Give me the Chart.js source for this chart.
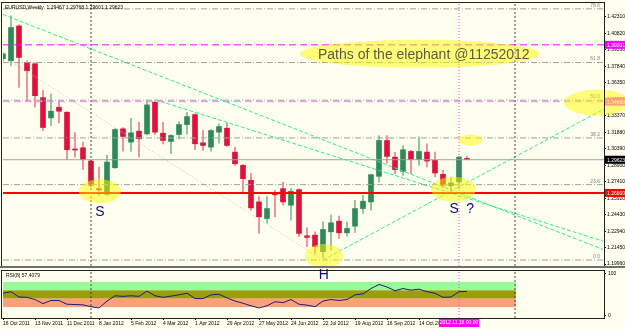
<!DOCTYPE html>
<html>
<head>
<meta charset="utf-8">
<script src="https://cdn.jsdelivr.net/npm/chart.js@4.4.1/dist/chart.umd.min.js"></script>
<style>
  html, body { margin: 0; padding: 0; background: #fffff0; }
  #wrap { position: relative; width: 625px; height: 329px; overflow: hidden; background: #fffff0; }
  #rsi { position: absolute; left: 0; top: 266px; }
  #main { position: absolute; left: 0; top: 0; z-index: 2; }
</style>
</head>
<body>
<div id="wrap">
  <canvas id="rsi" width="625" height="63"></canvas>
  <canvas id="main" width="625" height="282"></canvas>
</div>
<script>
// ---------------------------------------------------------------
//  EURUSD weekly, 16 Oct 2011 .. 25 Nov 2012 (bar index = week)
// ---------------------------------------------------------------

const OPEN  = [1.3851,1.3833,1.4148,1.3818,1.3806,1.3500,1.3317,1.3413,1.3368,1.3032,
               1.3047,1.2927,1.2677,1.2627,1.2867,1.3218,1.3098,1.3197,1.3173,1.3458,
               1.3179,1.3104,1.3167,1.3257,1.3347,1.3092,1.3053,1.3188,1.3224,1.3008,
               1.2888,1.2753,1.2558,1.2408,1.2631,1.2678,1.2528,1.2669,1.2252,1.2258,
               1.2108,1.2288,1.2384,1.2279,1.2339,1.2498,1.2558,1.2789,1.3113,1.2963,
               1.2834,1.3014,1.2940,1.3008,1.2933,1.2807,1.2705,1.2738,1.2951];
const HIGH  = [1.3905,1.4238,1.4157,1.3833,1.3815,1.3563,1.3533,1.3479,1.3374,1.3185,
               1.3098,1.2933,1.2873,1.2978,1.3221,1.3230,1.3314,1.3278,1.3479,1.3473,
               1.3278,1.3167,1.3284,1.3368,1.3356,1.3203,1.3212,1.3263,1.3272,1.3053,
               1.2897,1.2813,1.2609,1.2609,1.2663,1.2738,1.2678,1.2676,1.2324,1.2288,
               1.2378,1.2438,1.2429,1.2378,1.2573,1.2618,1.2807,1.3158,1.3158,1.3005,
               1.3068,1.3023,1.3143,1.3083,1.3008,1.2843,1.2783,1.2969,1.2969];
const LOW   = [1.3833,1.3788,1.3593,1.3473,1.3413,1.3203,1.3248,1.3272,1.2940,1.2963,
               1.2849,1.2699,1.2618,1.2618,1.2861,1.3017,1.3014,1.2963,1.3164,1.3167,
               1.3083,1.2993,1.3128,1.3167,1.3030,1.3023,1.3017,1.3089,1.3059,1.2888,
               1.2648,1.2483,1.2273,1.2369,1.2423,1.2528,1.2393,1.2243,1.2153,1.2093,
               1.2051,1.2123,1.2228,1.2249,1.2279,1.2453,1.2483,1.2738,1.2909,1.2813,
               1.2798,1.2813,1.2888,1.2873,1.2783,1.2690,1.2648,1.2677,1.2938];
const CLOSE = [1.3896,1.4133,1.3863,1.3743,1.3518,1.3230,1.3377,1.3377,1.3030,1.3027,
               1.2940,1.2708,1.2668,1.2918,1.3212,1.3149,1.3182,1.3128,1.3434,1.3188,
               1.3113,1.3158,1.3257,1.3329,1.3083,1.3068,1.3203,1.3239,1.3068,1.2903,
               1.2768,1.2504,1.2423,1.2498,1.2622,1.2558,1.2654,1.2273,1.2237,1.2153,
               1.2309,1.2369,1.2279,1.2318,1.2498,1.2564,1.2804,1.3113,1.2969,1.2849,
               1.3030,1.2940,1.3014,1.2927,1.2819,1.2708,1.2729,1.2963,1.2940];

// RSI(8)
const RSI = [53.0,56.7,44.0,43.3,38.0,28.3,35.8,35.8,26.8,26.1,
             25.3,20.9,17.9,34.3,47.0,45.5,47.0,45.5,58.2,47.0,
             43.3,46.2,49.2,53.0,40.3,40.3,49.2,50.7,41.8,34.3,
             29.1,23.1,17.9,23.1,32.8,30.6,38.0,26.8,24.6,20.9,
             34.3,38.0,35.8,38.0,49.2,51.5,64.2,73.9,67.9,58.9,
             64.2,60.4,62.7,56.7,53.0,43.3,44.0,56.7,57.4079];
const RSI_BANDS = [80, 60, 40, 20];        // green / olive / salmon zones
const RSI_BAND_END = 64.1;                 // zones stop at the 2013 separator
const RSI_TICKS = [0, 100];

// axis ticks
const PRICE_TICKS = [1.1996,1.2145,1.2294,1.2443,1.2592,1.2741,1.2890,1.3039,
                     1.3188,1.3337,1.3486,1.3635,1.3784,1.3933,1.4082,1.4231];
const DATE_BARS = [0,4,8,12,16,20,24,28,32,36,40,44,48,52];
const DATE_LABELS = ['16 Oct 2011','13 Nov 2011','11 Dec 2011','8 Jan 2012','5 Feb 2012',
                     '4 Mar 2012','1 Apr 2012','29 Apr 2012','27 May 2012','24 Jun 2012',
                     '22 Jul 2012','19 Aug 2012','16 Sep 2012','14 Oct 2012'];
const CURSOR_BAR = 57;
const CURSOR_LABEL = '2012.11.18 00:00';
const SEPARATOR_BARS = [11, 64];

// objects on the chart
const LEVEL_MAGENTA = 1.3977, LEVEL_PINK = 1.3464, LEVEL_BID = 1.2939, LEVEL_RED = 1.2639;
const TAG_TEXT = ['1.39031', '1.34660', '1.29623', '1.26600'];
const FIB_PRICES = [1.2033, 1.2714, 1.3136, 1.3477, 1.3817, 1.4302];
const FIB_TEXT = ['0.0', '23.6', '38.2', '50.0', '61.8', '78.6'];
const TREND_A = [[0, 1.4252], [75, 1.2128]];
const TREND_B = [[19, 1.3482], [75, 1.2204]];
const TREND_C = [[40, 1.2033], [75.125, 1.3397]];
const TREND_D = [[0.875, 1.3833], [40, 1.2033]];
const MARKS_AT = [[12.1, 1.2654], [40.1, 1.2069], [56.3, 1.2672], [58.4, 1.3118], [52.1, 1.3896], [74.25, 1.3455]];
const LETTERS = ['S', 'H', 'S', '?'];
const LETTERS_AT = [[12.1, 1.2465], [40.1, 1.1897], [56.4, 1.2492], [58.4, 1.2492]];
const TITLE = 'Paths of the elephant @11252012';
const TITLE_AT = [52.6, 1.3883];
const HEADER = 'EURUSD,Weekly  1.29467 1.29768 1.29601 1.29623';

const X_MAX = 75.125, Y_MIN = 1.1979, Y_MAX = 1.4346;

// ---------------------------------------------------------------
const UP = '#2e8b57', DOWN = '#dc143c';
const UP_WICK = 'rgba(46,139,87,0.6)', DOWN_WICK = 'rgba(220,20,60,0.55)';
const MARK_R = [[21, 12], [19, 12], [22.5, 12.5], [12, 5.5], [120, 14], [33, 13]];
const TINY = { family: 'Liberation Sans', size: 5 };

const isUp = OPEN.map((o, i) => CLOSE[i] >= o);

function hline(v, color, dash, width) {
    return { type: 'line', data: [{ x: 0, y: v }, { x: X_MAX, y: v }], borderColor: color,
             borderDash: dash, borderWidth: width || 1, pointRadius: 0, order: 1 };
}
function seg(pts, color, dash) {
    return { type: 'line', data: pts.map(p => ({ x: p[0], y: p[1] })), borderColor: color,
             borderDash: dash, borderWidth: 1, pointRadius: 0, order: 1 };
}
function vline(b, lo, hi, color, dash) {
    return { type: 'line', data: [{ x: b, y: lo }, { x: b, y: hi }], borderColor: color,
             borderDash: dash, borderWidth: 1, pointRadius: 0, order: 1 };
}

const FIB_DASH = [6, 2, 1, 2];
const mainSets = [
    { label: 'wick', data: LOW.map((l, i) => ({ x: i, y: [l, HIGH[i]] })),
      backgroundColor: isUp.map(u => u ? UP_WICK : DOWN_WICK), barThickness: 1, grouped: false, order: 3 },
    { label: 'body', data: OPEN.map((o, i) => ({ x: i, y: [o, CLOSE[i]] })),
      backgroundColor: isUp.map(u => u ? UP : DOWN), barThickness: 5, minBarLength: 1, grouped: false, order: 2 },
    ...FIB_PRICES.map(p => hline(p, '#a0a0a0', FIB_DASH)),
    ...SEPARATOR_BARS.map(b => vline(b, Y_MIN, Y_MAX, '#444', [2, 2])),
    vline(CURSOR_BAR, Y_MIN, Y_MAX, '#ff33ff', [1, 2]),
    hline(LEVEL_BID, '#a0a0a0', []),
    hline(LEVEL_MAGENTA, '#ff00ff', [7, 4]),
    hline(LEVEL_PINK, '#ee88ee', [7, 4]),
    hline(LEVEL_RED, '#ff0000', [], 2),
    seg(TREND_D, '#c0c0c0', [1, 2]),
    seg(TREND_A, '#30e890', [4, 2]),
    seg(TREND_B, '#30e890', [4, 2]),
    seg(TREND_C, '#30e890', [4, 2])
];

const mainDecor = {
    id: 'mainDecor',
    beforeDraw(chart) {
        const c = chart.ctx;
        c.save();
        c.fillStyle = '#fffff0';
        c.fillRect(0, 0, chart.width, 267);
        c.restore();
    },
    afterDraw(chart) {
        const c = chart.ctx, a = chart.chartArea;
        const xs = chart.scales.x, ys = chart.scales.y;
        c.save();
        // fib level texts
        c.font = '5px Liberation Sans';
        c.fillStyle = '#808080';
        c.textAlign = 'right';
        c.textBaseline = 'bottom';
        FIB_PRICES.forEach((p, i) => c.fillText(FIB_TEXT[i], a.right - 4, ys.getPixelForValue(p) - 1));
        // price tags on the axis
        const tagBg = ['#ff00ff', '#ff44ff', '#000000', '#ff0000'];
        [LEVEL_MAGENTA, LEVEL_PINK, LEVEL_BID, LEVEL_RED].forEach((v, i) => {
            const y = ys.getPixelForValue(v);
            c.fillStyle = tagBg[i];
            c.fillRect(a.right + 1, y - 4, 24, 8);
            c.fillStyle = '#fff';
            c.textAlign = 'left';
            c.textBaseline = 'middle';
            c.fillText(TAG_TEXT[i], a.right + 3, y + 0.5);
        });
        // yellow marks
        c.fillStyle = 'rgba(255,250,0,0.5)';
        MARKS_AT.forEach((m, i) => {
            c.beginPath();
            c.ellipse(xs.getPixelForValue(m[0]), ys.getPixelForValue(m[1]), MARK_R[i][0], MARK_R[i][1], 0, 0, Math.PI * 2);
            c.fill();
        });
        // letters
        c.fillStyle = '#0a0a80';
        c.font = '14px Liberation Sans';
        c.textAlign = 'center';
        c.textBaseline = 'middle';
        LETTERS.forEach((t, i) => c.fillText(t, xs.getPixelForValue(LETTERS_AT[i][0]), ys.getPixelForValue(LETTERS_AT[i][1])));
        // title
        c.fillStyle = '#5c5c40';
        c.font = '14px Liberation Sans';
        c.fillText(TITLE, xs.getPixelForValue(TITLE_AT[0]), ys.getPixelForValue(TITLE_AT[1]));
        // header
        c.fillStyle = '#000';
        c.font = '5px Liberation Sans';
        c.textAlign = 'left';
        c.textBaseline = 'top';
        c.fillText(HEADER, a.left + 2, a.top + 1);
        // frame
        c.strokeStyle = '#222';
        c.lineWidth = 1;
        c.strokeRect(a.left - 1.5, a.top - 1.5, a.right - a.left + 2, a.bottom - a.top + 2);
        c.fillStyle = '#707070';
        c.fillRect(0, 266, chart.width, 2);
        c.restore();
    }
};

new Chart(document.getElementById('main'), {
    type: 'bar',
    data: { datasets: mainSets },
    options: {
        responsive: false,
        animation: false,
        layout: { padding: { left: 3, top: 3, right: 0, bottom: 16 } },
        plugins: { legend: { display: false }, tooltip: { enabled: false } },
        scales: {
            x: { type: 'linear', min: 0, max: X_MAX, offset: false, display: false },
            y: {
                position: 'right', min: Y_MIN, max: Y_MAX,
                afterBuildTicks: s => { s.ticks = PRICE_TICKS.map(v => ({ value: v })); },
                afterFit: s => { s.width = 21; },
                ticks: { font: TINY, color: '#000', padding: 1, callback: v => v.toFixed(5) },
                grid: { display: true, drawOnChartArea: false, tickLength: 2, color: '#000' },
                border: { display: true, color: '#000' }
            }
        }
    },
    plugins: [mainDecor]
});

// ---------------------------------------------------------------
//  RSI window
// ---------------------------------------------------------------
const rsiDecor = {
    id: 'rsiDecor',
    beforeDraw(chart) {
        const c = chart.ctx;
        c.save();
        c.fillStyle = '#fffff0';
        c.fillRect(0, 0, chart.width, chart.height);
        c.restore();
    },
    beforeDatasetsDraw(chart) {
        const c = chart.ctx, a = chart.chartArea;
        const xs = chart.scales.x, ys = chart.scales.y;
        const fills = ['#98fb98', '#9c9c0c', '#ffa07a'];
        const xr = xs.getPixelForValue(RSI_BAND_END);
        c.save();
        for (let i = 0; i < 3; i++) {
            const y0 = ys.getPixelForValue(RSI_BANDS[i]), y1 = ys.getPixelForValue(RSI_BANDS[i + 1]);
            c.fillStyle = fills[i];
            c.fillRect(a.left, y0, xr - a.left, y1 - y0);
        }
        c.restore();
    },
    afterDraw(chart) {
        const c = chart.ctx, a = chart.chartArea, xs = chart.scales.x;
        c.save();
        c.fillStyle = '#000';
        c.font = '5px Liberation Sans';
        c.textAlign = 'left';
        c.textBaseline = 'top';
        c.fillText('RSI(8) ' + RSI[RSI.length - 1].toFixed(4), a.left + 3, a.top + 2);
        // cursor date tag
        const cx = xs.getPixelForValue(CURSOR_BAR);
        c.fillStyle = '#ff00ff';
        c.fillRect(cx - 20, a.bottom + 1, 40, 8);
        c.fillStyle = '#fff';
        c.textAlign = 'center';
        c.textBaseline = 'middle';
        c.fillText(CURSOR_LABEL, cx, a.bottom + 5);
        c.strokeStyle = '#222';
        c.strokeRect(a.left - 1.5, a.top - 0.5, a.right - a.left + 2, a.bottom - a.top + 1);
        c.restore();
    }
};

new Chart(document.getElementById('rsi'), {
    type: 'line',
    data: {
        datasets: [
            { data: RSI.map((v, i) => ({ x: i, y: v })), borderColor: '#1c1c78', borderWidth: 1,
              pointRadius: 0, tension: 0, order: 1 },
            ...SEPARATOR_BARS.map(b => vline(b, -6, 106, '#444', [2, 2])),
            vline(CURSOR_BAR, -6, 106, '#ff33ff', [1, 2])
        ]
    },
    options: {
        responsive: false,
        animation: false,
        layout: { padding: { left: 3, top: 2, right: 0, bottom: 0 } },
        plugins: { legend: { display: false }, tooltip: { enabled: false } },
        scales: {
            x: {
                type: 'linear', min: 0, max: X_MAX, offset: false,
                afterBuildTicks: s => { s.ticks = DATE_BARS.map(v => ({ value: v })); },
                afterFit: s => { s.height = 11; },
                ticks: { autoSkip: false, maxRotation: 0, align: 'start', font: TINY, color: '#000', padding: 1,
                         callback: (v, i) => DATE_LABELS[i] },
                grid: { display: true, drawOnChartArea: false, tickLength: 2, color: '#000' },
                border: { display: true, color: '#000' }
            },
            y: {
                position: 'right', min: -6, max: 106,
                afterBuildTicks: s => { s.ticks = RSI_TICKS.map(v => ({ value: v })); },
                afterFit: s => { s.width = 21; },
                ticks: { font: TINY, color: '#000', padding: 2 },
                grid: { display: true, drawOnChartArea: false, tickLength: 2, color: '#000' },
                border: { display: true, color: '#000' }
            }
        }
    },
    plugins: [rsiDecor]
});
</script>
</body>
</html>
